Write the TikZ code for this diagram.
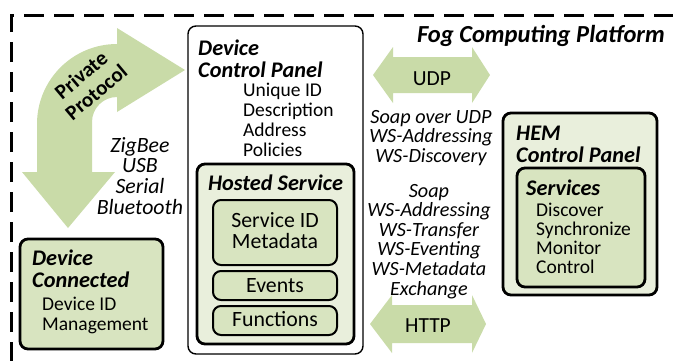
\documentclass[tikz,border=0pt]{standalone}
\usepackage{fontspec}
\setmainfont{Carlito}
\definecolor{arrowgreen}{HTML}{C9DBA8}
\definecolor{boxgreen}{HTML}{D8E4C0}
\definecolor{palegreen}{HTML}{E9EFDC}
\newcommand\txtlines[2]{\begin{tabular}[t]{@{}#1@{}}#2\end{tabular}}
\tikzset{
  platform/.style={line width=3pt, dash pattern=on 20pt off 10pt},
  outerpanel/.style={draw=black, fill=white, line width=1.4pt, rounded corners=8pt, inner sep=0pt},
  greenpanel/.style={draw=black, fill=#1, line width=2.8pt, rounded corners=8pt, inner sep=0pt},
  itembox/.style={draw=black, fill=boxgreen, line width=2pt, rounded corners=8pt, inner sep=0pt},
  body/.style={inner sep=0pt, font=\fontsize{19.5}{20}\selectfont},
  itemtext/.style={inner sep=0pt, font=\fontsize{21.8}{20}\selectfont},
  heading/.style={inner sep=0pt, font=\fontsize{22.3}{22}\selectfont\bfseries\itshape},
  proto/.style={inner sep=0pt, font=\fontsize{20.2}{19}\selectfont\itshape},
  arrowlabel/.style={inner sep=0pt, font=\fontsize{21.5}{22}\selectfont},
  bigarrow/.style={fill=arrowgreen, draw=none},
  curvelabel/.style={inner sep=0pt, font=\fontsize{21}{21}\selectfont\bfseries, rotate=40},
}
\begin{document}
\begin{tikzpicture}[x=1pt, y=-1pt]
\useasboundingbox (0,0) rectangle (673,360);

% platform border: dashed along the top and left sides only
\draw[platform] (11,362) -- (11,15) -- (675,15);
\node[heading, font=\fontsize{24.5}{24}\selectfont\bfseries\itshape, anchor=base east] (fog) at (665,42) {Fog Computing Platform};

% curved "private protocol" arrow
\fill[bigarrow] (22,172) -- (68,228) -- (115,172) -- (92,172) -- (92,122)
  .. controls (92,108.2) and (103.2,97) .. (117,97)
  -- (117,112) -- (185,70) -- (117,28) -- (117,44)
  .. controls (72.8,44) and (37,79.8) .. (37,124) -- (37,172) -- cycle;
\node[curvelabel] (private) at (81,75) {Private};
\node[curvelabel] (protocol) at (96,92) {Protocol};
\node[proto, font=\fontsize{21.8}{20.3}\selectfont\itshape, anchor=base] (links) at (140,152)
  {\txtlines{c}{ZigBee\\USB\\Serial\\Bluetooth}};

% device control panel with its hosted service
\node[outerpanel, minimum width=175pt, minimum height=328pt] (dcp) at (275.5,190) {};
\node[heading, anchor=base west] (dcptitle) at (198,55) {\txtlines{l}{Device\\Control Panel}};
\node[body, anchor=base west] (dcpitems) at (243,96)
  {\txtlines{l}{Unique ID\\Description\\Address\\Policies}};
\node[greenpanel=palegreen, minimum width=157pt, minimum height=180pt] (hosted) at (275.5,254) {};
\node[heading, anchor=base] (hostedtitle) at (275.5,190) {Hosted Service};
\node[itembox, minimum width=124pt, minimum height=65pt] (sid) at (275,232.5) {};
\node[itemtext, anchor=base] (sidtext) at (275,227) {\txtlines{c}{Service ID\\Metadata}};
\node[itembox, minimum width=124pt, minimum height=29pt] (events) at (275,285.5) {};
\node[itemtext, anchor=base] (eventstext) at (275,292) {Events};
\node[itembox, minimum width=124pt, minimum height=29pt] (functions) at (275,320.5) {};
\node[itemtext, anchor=base] (functionstext) at (275,326) {Functions};

% connected device
\node[greenpanel=boxgreen, minimum width=143pt, minimum height=110pt] (devconn) at (91.5,294) {};
\node[heading, anchor=base west] (devtitle) at (32,265) {\txtlines{l}{Device\\Connected}};
\node[body, anchor=base west] (devitems) at (42,310) {\txtlines{l}{Device ID\\Management}};

% home energy management panel
\node[greenpanel=palegreen, minimum width=154pt, minimum height=182pt] (hem) at (580,204) {};
\node[heading, anchor=base west] (hemtitle) at (516,140) {\txtlines{l}{HEM\\Control Panel}};
\node[greenpanel=boxgreen, minimum width=128pt, minimum height=119pt] (services) at (581,227.5) {};
\node[heading, anchor=base west] (servtitle) at (526,195) {Services};
\node[body, font=\fontsize{19.5}{19}\selectfont, anchor=base west] (servitems) at (536,216)
  {\txtlines{l}{Discover\\Synchronize\\Monitor\\Control}};

% UDP double arrow and discovery protocols
\fill[bigarrow] (373,75) -- (393,47) -- (393,57) -- (472,57) -- (472,47) -- (490,75)
  -- (472,103) -- (472,93) -- (393,93) -- (393,103) -- cycle;
\node[arrowlabel, anchor=base] (udp) at (432,85) {UDP};
\node[proto, font=\fontsize{20.2}{19.5}\selectfont\itshape, anchor=base] (udpstack) at (431,123)
  {\txtlines{c}{Soap over UDP\\WS-Addressing\\WS-Discovery}};

% HTTP double arrow and web service protocols
\node[proto, anchor=base] (httpstack) at (429,197)
  {\txtlines{c}{Soap\\WS-Addressing\\WS-Transfer\\WS-Eventing\\WS-Metadata\\Exchange}};
\fill[bigarrow] (370,324) -- (392,295) -- (392,305) -- (472,305) -- (472,295) -- (486,324)
  -- (472,353) -- (472,343) -- (392,343) -- (392,353) -- cycle;
\node[arrowlabel, anchor=base] (http) at (428,332) {HTTP};
\end{tikzpicture}
\end{document}
